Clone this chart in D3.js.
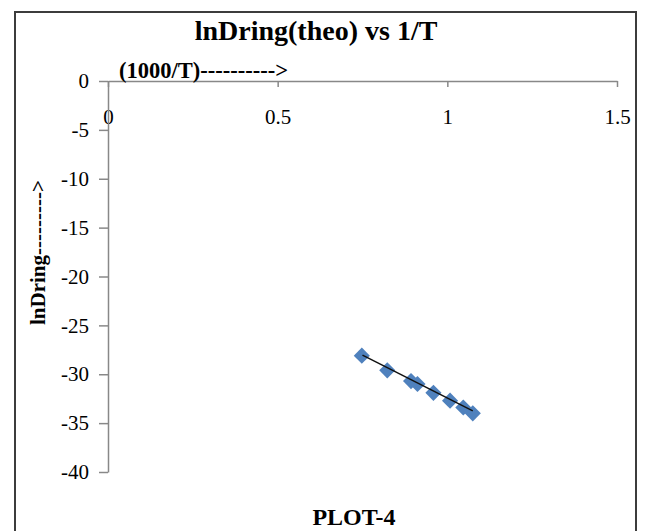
<!DOCTYPE html>
<html>
<head>
<meta charset="utf-8">
<script src="https://cdn.jsdelivr.net/npm/d3@7"></script>
<style>
  body { margin: 0; background: #fff; }
  text { font-family: "Liberation Serif", "Times New Roman", serif; fill: #000; }
</style>
</head>
<body>
<div id="chart"></div>
<script>
// data
var invT = [0.748, 0.823, 0.893, 0.912, 0.959, 1.008, 1.047, 1.075];
var lnDring = [-28.1, -29.6, -30.7, -31.0, -31.9, -32.7, -33.4, -34.0];
var trendX = [0.75, 1.075];
var trendY = [-28.05, -33.75];
var xTicks = [0, 0.5, 1, 1.5];
var yTicks = [0, -5, -10, -15, -20, -25, -30, -35, -40];

var W = 646, H = 531;

var svg = d3.select("#chart")
  .append("svg")
    .attr("width", W)
    .attr("height", H);

// chart border (bottom is cut off in the picture)
svg.append("rect")
  .attr("x", 15).attr("y", 12)
  .attr("width", 621).attr("height", 540)
  .attr("fill", "none")
  .attr("stroke", "#3c3c3c")
  .attr("stroke-width", 2);

var x = d3.scaleLinear().domain([0, 1.5]).range([108, 617]);
var y = d3.scaleLinear().domain([-40, 0]).range([472, 81]);

// x axis sits on y = 0
var gx = svg.append("g")
  .attr("transform", "translate(0," + y(0) + ")")
  .call(d3.axisBottom(x).tickValues(xTicks).tickSize(6).tickSizeOuter(0).tickPadding(22)
    .tickFormat(function(d) { return String(d); }));

var gy = svg.append("g")
  .attr("transform", "translate(" + x(0) + ",0)")
  .call(d3.axisLeft(y).tickValues(yTicks).tickSize(9).tickSizeOuter(0).tickPadding(10)
    .tickFormat(function(d) { return String(d); }));

[gx, gy].forEach(function(g) {
  g.select(".domain").attr("stroke", "#888").attr("stroke-width", 1.5);
  g.selectAll(".tick line").attr("stroke", "#888").attr("stroke-width", 1.5);
  g.selectAll(".tick text")
    .style("font-family", '"Liberation Serif", "Times New Roman", serif')
    .style("font-size", "21px")
    .attr("fill", "#000");
});

// title
svg.append("text")
  .attr("x", 316).attr("y", 40)
  .attr("text-anchor", "middle")
  .style("font-size", "28px")
  .style("font-weight", "bold")
  .text("lnDring(theo) vs 1/T");

// x axis caption
svg.append("text")
  .attr("x", 119).attr("y", 78)
  .style("font-size", "22.5px")
  .style("font-weight", "bold")
  .text("(1000/T)---------->");

// y axis caption
svg.append("text")
  .attr("transform", "translate(45,325) rotate(-90)")
  .style("font-size", "21px")
  .style("font-weight", "bold")
  .text("lnDring--------->");

// bottom caption
svg.append("text")
  .attr("x", 354).attr("y", 525)
  .attr("text-anchor", "middle")
  .style("font-size", "24px")
  .style("font-weight", "bold")
  .text("PLOT-4");

// markers
var pts = invT.map(function(v, i) { return [v, lnDring[i]]; });
svg.append("g").selectAll("path")
  .data(pts)
  .join("path")
    .attr("transform", function(d) { return "translate(" + x(d[0]) + "," + y(d[1]) + ") rotate(45)"; })
    .attr("d", d3.symbol(d3.symbolSquare, 130))
    .attr("fill", "#4f81bd");

// linear trendline
var trend = trendX.map(function(v, i) { return [v, trendY[i]]; });
svg.append("path")
  .datum(trend)
  .attr("fill", "none")
  .attr("stroke", "#111")
  .attr("stroke-width", 1.5)
  .attr("d", d3.line()
    .x(function(d) { return x(d[0]); })
    .y(function(d) { return y(d[1]); }));
</script>
</body>
</html>
